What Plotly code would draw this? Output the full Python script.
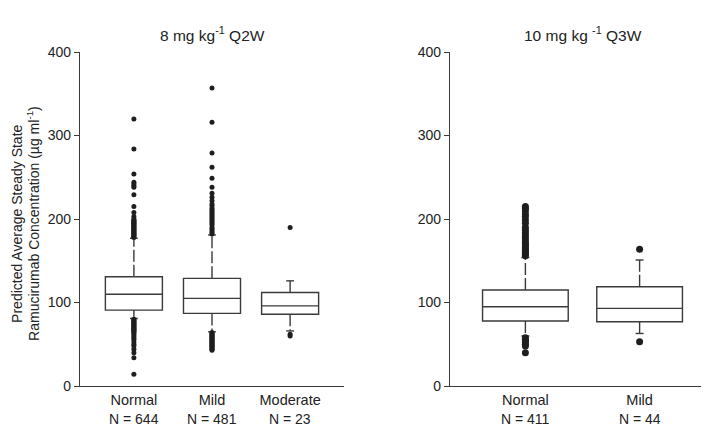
import plotly.graph_objects as go

# ---------------- data ----------------
categories_q2w = ["Normal", "Mild", "Moderate"]
n_q2w = [644, 481, 23]
q1_q2w = [91, 87, 86]
median_q2w = [110, 105, 96]
q3_q2w = [131, 129, 112]
lower_q2w = [81, 65, 66]
upper_q2w = [177, 181, 126]
outliers_q2w = [
    [178, 179, 180, 181, 182, 183, 184, 185, 186, 187, 188, 189, 190, 191, 192, 193,
     194, 195, 196, 197, 198, 199, 200, 203, 208, 215, 229, 238, 240, 242, 244, 254,
     284, 320,
     80, 79, 78, 77, 76, 75, 74, 73, 72, 71, 70, 69, 68, 67, 66, 65, 64, 62, 60, 58,
     56, 53, 50, 48, 44, 40, 34, 14],
    [182, 184, 186, 188, 190, 193, 195, 197, 199, 201, 203, 205, 207, 209, 211, 213,
     216, 218, 222, 226, 231, 238, 249, 262, 279, 316, 357,
     64, 63, 62, 61, 60, 59, 58, 57, 56, 55, 54, 53, 52, 51, 50, 49, 48, 47, 46, 45,
     44, 43],
    [190, 62, 60],
]

categories_q3w = ["Normal", "Mild"]
n_q3w = [411, 44]
q1_q3w = [78, 77]
median_q3w = [95, 93]
q3_q3w = [115, 119]
lower_q3w = [60, 63]
upper_q3w = [154, 151]
outliers_q3w = [
    [156, 158, 160, 162, 164, 166, 168, 170, 172, 175, 178, 181, 184, 187, 190, 195,
     199, 203, 206, 210, 213, 215,
     58, 56, 54, 52, 50, 48, 40],
    [164, 53],
]

y_ticks = [0, 100, 200, 300, 400]
title_q2w = "8 mg kg<sup>-1</sup> Q2W"
title_q3w = "10 mg kg <sup>-1</sup> Q3W"
y_title_1 = "Predicted Average Steady State"
y_title_2 = "Ramucirumab Concentration (µg ml<sup>-1</sup>)"

# ---------------- style ----------------
W, H = 709, 426
LINE = "#3a3a3a"
TXT = "#222222"
FONT = "Liberation Sans, Arial, sans-serif"
y_dom = [(H - 384.5) / H, (H - 37.5) / H]

fig = go.Figure()


def add_panel(cats, q1, med, q3, lo, up, outs, xa, ya, box_w, cap_half, msize):
    pos = list(range(len(cats)))
    fig.add_trace(go.Box(
        x=pos, q1=q1, median=med, q3=q3, lowerfence=q1, upperfence=q3,
        width=box_w, fillcolor="white", line=dict(color=LINE, width=1.4),
        boxpoints=False, xaxis=xa, yaxis=ya, showlegend=False, hoverinfo="skip"))
    wx, wy, cx, cy = [], [], [], []
    for i in pos:
        wx += [i, i, None, i, i, None]
        wy += [q3[i], up[i], None, q1[i], lo[i], None]
        cx += [i - cap_half, i + cap_half, None, i - cap_half, i + cap_half, None]
        cy += [up[i], up[i], None, lo[i], lo[i], None]
    fig.add_trace(go.Scatter(x=wx, y=wy, mode="lines",
                             line=dict(color=LINE, width=1.4, dash="12px,3px"),
                             xaxis=xa, yaxis=ya, showlegend=False, hoverinfo="skip"))
    fig.add_trace(go.Scatter(x=cx, y=cy, mode="lines",
                             line=dict(color=LINE, width=1.4),
                             xaxis=xa, yaxis=ya, showlegend=False, hoverinfo="skip"))
    ox, oy = [], []
    for i in pos:
        ox += [i] * len(outs[i])
        oy += outs[i]
    fig.add_trace(go.Scatter(x=ox, y=oy, mode="markers",
                             marker=dict(color="#1e1e1e", size=msize),
                             xaxis=xa, yaxis=ya, showlegend=False, hoverinfo="skip"))


add_panel(categories_q2w, q1_q2w, median_q2w, q3_q2w, lower_q2w, upper_q2w,
          outliers_q2w, "x", "y", 0.73, 0.05, 5)
add_panel(categories_q3w, q1_q3w, median_q3w, q3_q3w, lower_q3w, upper_q3w,
          outliers_q3w, "x2", "y2", 0.75, 0.035, 7)

xcommon = dict(showline=True, linecolor=LINE, linewidth=1.3, ticks="", showgrid=False,
               zeroline=False, tickfont=dict(size=14.5, color=TXT, family=FONT))
ycommon = dict(range=[0, 400], tickvals=y_ticks, showline=True, linecolor=LINE,
               linewidth=1.3, ticks="outside", ticklen=5, tickcolor=LINE, tickwidth=1.3,
               showgrid=False, zeroline=False, domain=y_dom,
               tickfont=dict(size=14, color=TXT, family=FONT))

fig.update_layout(
    width=W, height=H, margin=dict(l=0, r=0, t=0, b=0),
    paper_bgcolor="white", plot_bgcolor="white",
    font=dict(family=FONT, color=TXT),
    xaxis=dict(domain=[72 / W, 336 / W], range=[-0.69, 2.69],
               tickvals=list(range(len(categories_q2w))), ticktext=categories_q2w,
               anchor="y", **xcommon),
    yaxis=dict(anchor="x", **ycommon),
    xaxis2=dict(domain=[442 / W, 707 / W], range=[-0.66, 1.66],
                tickvals=list(range(len(categories_q3w))), ticktext=categories_q3w,
                anchor="y2", **xcommon),
    yaxis2=dict(anchor="x2", **ycommon),
)

ann = []
for i, n in enumerate(n_q2w):
    ann.append(dict(x=i, xref="x", y=(H - 419) / H, yref="paper", text=f"N = {n}",
                    showarrow=False, font=dict(size=14, color=TXT),
                    xanchor="center", yanchor="middle"))
for i, n in enumerate(n_q3w):
    ann.append(dict(x=i, xref="x2", y=(H - 419) / H, yref="paper", text=f"N = {n}",
                    showarrow=False, font=dict(size=14, color=TXT),
                    xanchor="center", yanchor="middle"))
ann.append(dict(x=204 / W, y=(H - 19) / H, xref="paper", yref="paper", text=title_q2w,
                showarrow=False, font=dict(size=15.5, color=TXT),
                xanchor="center", yanchor="middle"))
ann.append(dict(x=574.5 / W, y=(H - 19) / H, xref="paper", yref="paper", text=title_q3w,
                showarrow=False, font=dict(size=15.5, color=TXT),
                xanchor="center", yanchor="middle"))
ann.append(dict(x=9 / W, y=(H - 216) / H, xref="paper", yref="paper", text=y_title_1,
                textangle=-90, showarrow=False, font=dict(size=14, color=TXT),
                xanchor="center", yanchor="middle"))
ann.append(dict(x=25 / W, y=(H - 216) / H, xref="paper", yref="paper", text=y_title_2,
                textangle=-90, showarrow=False, font=dict(size=14, color=TXT),
                xanchor="center", yanchor="middle"))
fig.update_layout(annotations=ann)

fig.write_html("out.html")
